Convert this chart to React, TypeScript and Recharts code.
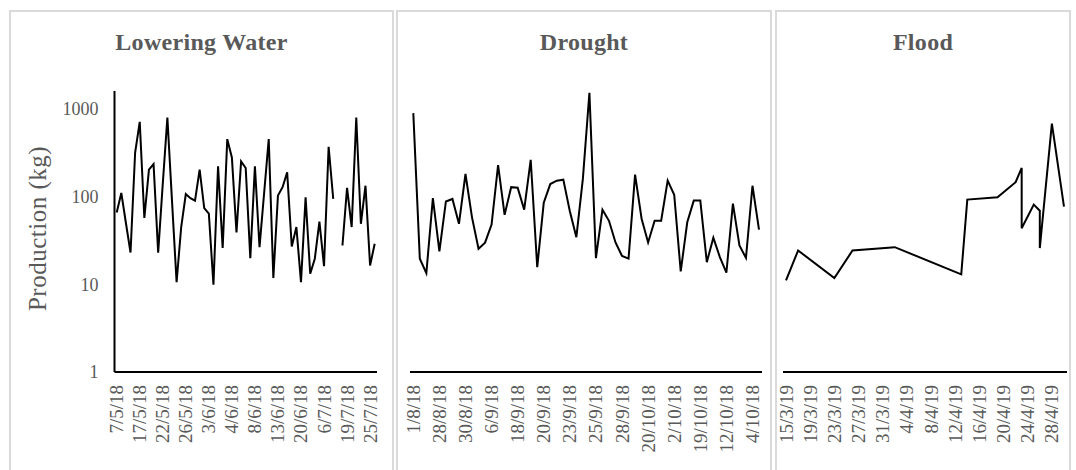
import { LineChart, Line, XAxis, YAxis } from 'recharts';

// Lowering Water: text categories, label every 5th point
const loweringLabels = [
  '7/5/18', '17/5/18', '22/5/18', '26/5/18', '3/6/18', '4/6/18',
  '8/6/18', '13/6/18', '20/6/18', '6/7/18', '19/7/18', '25/7/18',
];
const loweringValues = [
  66, 110, 50, 23, 318, 711, 57, 203, 235, 23, 140, 795, 90, 10.6, 45, 107, 96, 90, 203, 74,
  64, 9.9, 221, 26, 452, 280, 39, 252, 212, 19.9, 221, 26.5, 110, 452, 11.8, 103, 128, 189, 27, 45,
  10.6, 98, 13.2, 19.6, 52, 16.1, 370, 94, null, 27.7, 126, 45, 795, 49, 133, 16.4, 29,
];

// Drought: text categories, label every 4th point
const droughtLabels = [
  '1/8/18', '28/8/18', '30/8/18', '6/9/18', '18/9/18', '20/9/18', '23/9/18',
  '25/9/18', '28/9/18', '20/10/18', '2/10/18', '19/10/18', '12/10/18', '4/10/18',
];
const droughtValues = [
  894, 19.6, 13.4, 96, 23.7, 88, 94, 49, 181, 58, 25.4, 29.8, 48, 229, 62, 128, 126, 71, 263, 15.7,
  85, 139, 152, 156, 68, 34.5, 160, 1530, 19.9, 71, 53, 30, 21, 19.6, 178, 56, 30, 53, 53, 152,
  105, 14, 51, 90, 90, 17.9, 34, 20.4, 13.6, 83, 27.7, 20, 133, 42,
];

// Flood: date axis
const floodDates = [
  '15/3/19', '17/3/19', '23/3/19', '26/3/19', '2/4/19', '13/4/19', '14/4/19', '19/4/19',
  '22/4/19', '23/4/19', '23/4/19', '25/4/19', '26/4/19', '26/4/19', '28/4/19', '30/4/19',
];
const floodValues = [11.1, 24.3, 11.8, 24.3, 26.5, 13, 92.5, 98, 146, 212, 43.6, 81, 69, 25.9, 681, 77];
const floodTickLabels = [
  '15/3/19', '19/3/19', '23/3/19', '27/3/19', '31/3/19', '4/4/19',
  '8/4/19', '12/4/19', '16/4/19', '20/4/19', '24/4/19', '28/4/19',
];

const yTicks = [1, 10, 100, 1000];

const serif = '"Liberation Serif", "DejaVu Serif", serif';
const gray = '#595959';

const toDay = (s: string) => {
  const [d, m, y] = s.split('/').map(Number);
  return Date.UTC(2000 + y, m - 1, d) / 86400000;
};

const loweringData = loweringValues.map((v, i) => ({ i, v }));
const droughtData = droughtValues.map((v, i) => ({ i, v }));
const floodStart = toDay(floodDates[0]);
const floodData = floodDates.map((d, k) => ({ day: toDay(d) - floodStart, v: floodValues[k] }));
const floodEnd = floodData[floodData.length - 1].day;
const floodTicks = floodTickLabels.map((d) => toDay(d) - floodStart);

function DateTick(props: any) {
  const { x, y, payload, labelFor } = props;
  const ty = y + 11;
  return (
    <text
      x={x}
      y={ty}
      transform={`rotate(-90 ${x} ${ty})`}
      textAnchor="end"
      dominantBaseline="central"
      fill={gray}
      fontSize={19}
      fontFamily={serif}
    >
      {labelFor(payload.value)}
    </text>
  );
}

const axisLine = { stroke: '#000', strokeWidth: 2 };

function Title({ text, left, width }: { text: string; left: number; width: number }) {
  return (
    <div
      style={{
        position: 'absolute',
        left,
        width,
        top: 29,
        lineHeight: '27px',
        textAlign: 'center',
        fontFamily: serif,
        fontWeight: 'bold',
        fontSize: 24,
        letterSpacing: 0.3,
        color: gray,
      }}
    >
      {text}
    </div>
  );
}

const boxStyle = (left: number, width: number): React.CSSProperties => ({
  position: 'absolute',
  left,
  top: 10,
  width,
  height: 480,
  border: '2px solid #dadada',
  boxSizing: 'border-box',
});

export default function App() {
  const lowTicks = loweringLabels.map((_, k) => k * 5);
  const droughtTicks = droughtLabels.map((_, k) => k * 4);

  return (
    <div
      style={{
        position: 'absolute',
        left: 0,
        top: 0,
        width: 1076,
        height: 470,
        background: '#fff',
        overflow: 'hidden',
      }}
    >
      <div style={boxStyle(9, 385)} />
      <div style={boxStyle(396, 376)} />
      <div style={boxStyle(775, 296)} />

      <Title text="Lowering Water" left={9} width={385} />
      <Title text="Drought" left={396} width={376} />
      <Title text="Flood" left={775} width={296} />

      {/* Lowering Water */}
      <div style={{ position: 'absolute', left: 9, top: 10 }}>
        <LineChart width={385} height={460} data={loweringData} margin={{ top: 81, right: 17, bottom: 18, left: 0 }}>
          <XAxis
            type="number"
            dataKey="i"
            domain={[0, loweringValues.length - 1]}
            ticks={lowTicks}
            interval={0}
            padding={{ left: 2.2, right: 2.3 }}
            axisLine={axisLine}
            tickLine={false}
            tickSize={0}
            height={80}
            tick={(p: any) => <DateTick {...p} labelFor={(v: number) => loweringLabels[v / 5]} />}
          />
          <YAxis
            type="number"
            scale="log"
            domain={[1, 1600]}
            allowDataOverflow
            ticks={yTicks}
            interval={0}
            width={105.5}
            axisLine={axisLine}
            tickLine={false}
            tickSize={0}
            tickMargin={16}
            tick={{ fill: gray, fontSize: 18, fontFamily: serif }}
            label={{
              value: 'Production (kg)',
              angle: -90,
              position: 'center',
              dx: -25,
              dy: -3,
              fill: gray,
              fontSize: 25,
              fontFamily: serif,
              letterSpacing: 0.5,
            }}
          />
          <Line type="linear" dataKey="v" stroke="#000" strokeWidth={2} dot={false} isAnimationActive={false} />
        </LineChart>
      </div>

      {/* Drought */}
      <div style={{ position: 'absolute', left: 396, top: 10 }}>
        <LineChart width={376} height={460} data={droughtData} margin={{ top: 81, right: 10, bottom: 18, left: 14 }}>
          <XAxis
            type="number"
            dataKey="i"
            domain={[0, droughtValues.length - 1]}
            ticks={droughtTicks}
            interval={0}
            padding={{ left: 3.3, right: 3 }}
            axisLine={axisLine}
            tickLine={false}
            tickSize={0}
            height={80}
            tick={(p: any) => <DateTick {...p} labelFor={(v: number) => droughtLabels[v / 4]} />}
          />
          <YAxis hide type="number" scale="log" domain={[1, 1600]} allowDataOverflow ticks={yTicks} />
          <Line type="linear" dataKey="v" stroke="#000" strokeWidth={2} dot={false} isAnimationActive={false} />
        </LineChart>
      </div>

      {/* Flood */}
      <div style={{ position: 'absolute', left: 775, top: 10 }}>
        <LineChart width={296} height={460} data={floodData} margin={{ top: 81, right: 4, bottom: 18, left: 8 }}>
          <XAxis
            type="number"
            dataKey="day"
            domain={[-0.5, floodEnd + 0.5]}
            ticks={floodTicks}
            interval={0}
            axisLine={axisLine}
            tickLine={false}
            tickSize={0}
            height={80}
            tick={(p: any) => (
              <DateTick {...p} labelFor={(v: number) => floodTickLabels[floodTicks.indexOf(v)]} />
            )}
          />
          <YAxis hide type="number" scale="log" domain={[1, 1600]} allowDataOverflow ticks={yTicks} />
          <Line type="linear" dataKey="v" stroke="#000" strokeWidth={2} dot={false} isAnimationActive={false} />
        </LineChart>
      </div>
    </div>
  );
}
